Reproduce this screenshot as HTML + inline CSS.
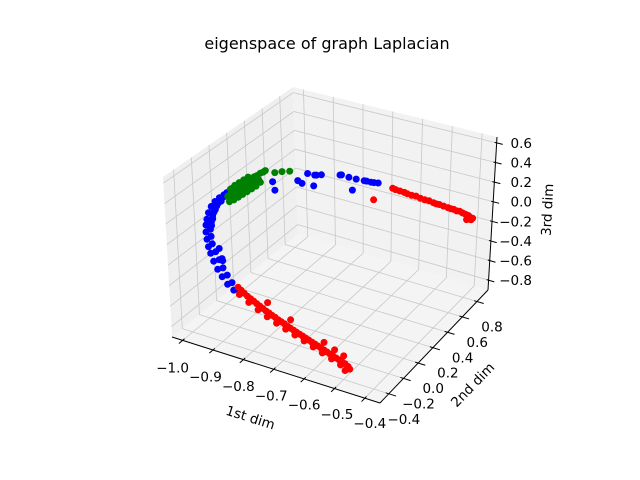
<!DOCTYPE html>
<html><head><meta charset="utf-8"><style>
html,body{margin:0;padding:0;background:#fff;}
svg{display:block;font-family:"DejaVu Sans","Liberation Sans",sans-serif;}
</style></head><body>
<svg id="chart" width="640" height="480" viewBox="0 0 640 480" xmlns="http://www.w3.org/2000/svg">
<text x="327" y="49" font-size="16" text-anchor="middle" fill="#000">eigenspace of graph Laplacian</text>
<g id="panes"></g>
<g id="grid"></g>
<g id="axes"></g>
<g id="pts"></g>
<text font-size="13.5" text-anchor="middle" transform="translate(249,422) rotate(17.6)">1st dim</text>
<text font-size="13.5" text-anchor="middle" transform="translate(476,388) rotate(-45.8)">2nd dim</text>
<text font-size="13.5" text-anchor="middle" transform="translate(552,210) rotate(-87)">3rd dim</text>
</svg>
<script>
const xTicks=[-1.0,-0.9,-0.8,-0.7,-0.6,-0.5,-0.4];
const yTicks=[-0.4,-0.2,0.0,0.2,0.4,0.6,0.8];
const zTicks=[-0.8,-0.6,-0.4,-0.2,0.0,0.2,0.4,0.6];
const xRange=[-1.035,-0.35];
const yRange=[-0.52,0.95];
const zRange=[-0.90,0.66];
// red: lower arm (y=-0.34 / -0.38 / -0.30) and upper arm (y=0.78)
const redX=[-0.86,-0.85,-0.84,-0.83,-0.82,-0.81,-0.80,-0.79,-0.78,-0.77,-0.76,-0.75,-0.74,-0.73,-0.72,-0.71,-0.70,-0.69,-0.68,-0.67,-0.66,-0.65,-0.64,-0.63,-0.62,-0.61,-0.60,-0.59,-0.58,-0.57,-0.56,-0.55,-0.54,-0.53,-0.52,-0.51,-0.50,-0.495,
 -0.845,-0.815,-0.785,-0.755,-0.725,-0.695,-0.665,-0.635,-0.605,-0.575,-0.545,-0.515,-0.50,-0.525,-0.555,-0.59,-0.775,-0.70,
 -0.65,-0.64,-0.625,-0.61,-0.60,-0.585,-0.57,-0.555,-0.54,-0.525,-0.51,-0.50,-0.49,-0.475,-0.46,-0.45,-0.44,-0.43,-0.42,-0.41,-0.40,-0.39,-0.385,-0.375,-0.38,-0.395,-0.715];
const redY=[-0.34,-0.34,-0.34,-0.34,-0.34,-0.34,-0.34,-0.34,-0.34,-0.34,-0.34,-0.34,-0.34,-0.34,-0.34,-0.34,-0.34,-0.34,-0.34,-0.34,-0.34,-0.34,-0.34,-0.34,-0.34,-0.34,-0.34,-0.34,-0.34,-0.34,-0.34,-0.34,-0.34,-0.34,-0.34,-0.34,-0.34,-0.34,
 -0.38,-0.38,-0.38,-0.38,-0.38,-0.38,-0.38,-0.38,-0.38,-0.38,-0.38,-0.38,-0.38,-0.30,-0.30,-0.30,-0.30,-0.30,
 0.78,0.78,0.78,0.78,0.78,0.78,0.78,0.78,0.78,0.78,0.78,0.78,0.78,0.78,0.78,0.78,0.78,0.78,0.78,0.78,0.78,0.78,0.78,0.78,0.78,0.78,0.78];
const redZ=[-0.38,-0.40,-0.42,-0.44,-0.455,-0.47,-0.485,-0.50,-0.515,-0.53,-0.54,-0.555,-0.565,-0.58,-0.59,-0.60,-0.615,-0.625,-0.635,-0.645,-0.655,-0.665,-0.675,-0.685,-0.695,-0.705,-0.715,-0.725,-0.735,-0.745,-0.755,-0.765,-0.775,-0.785,-0.795,-0.805,-0.82,-0.84,
 -0.41,-0.46,-0.505,-0.545,-0.58,-0.61,-0.64,-0.67,-0.70,-0.73,-0.76,-0.79,-0.83,-0.77,-0.74,-0.70,-0.48,-0.58,
 0.02,0.015,0.012,0.01,0.005,0.0,0.004,-0.005,-0.01,-0.008,-0.015,-0.02,-0.018,-0.022,-0.025,-0.03,-0.028,-0.035,-0.03,-0.04,-0.045,-0.05,-0.06,-0.065,-0.085,-0.095,-0.15];
// blue: left arc (y=-0.2) and upper arm (y=0.64)
const blueX=[-0.935,-0.95,-0.965,-0.978,-0.988,-0.994,-0.998,-0.999,-0.997,-0.993,-0.987,-0.978,-0.966,-0.952,-0.935,-0.915,
 -0.91,-0.925,-0.94,-0.955,-0.965,-0.975,-0.98,-0.984,-0.983,-0.98,-0.97,-0.96,-0.948,-0.935,-0.92,-0.90,-0.958,-0.948,-0.95,-0.90,-0.88,
 -0.96,-0.97,-0.975,-0.98,-0.945,-0.93,
 -0.934,-0.90,-0.853,-0.785,-0.76,-0.735,-0.708,-0.685,-0.661,-1.021,-1.014,-0.88,-0.748,-0.92,-0.876,-0.87,-0.79,-0.70,-0.675];
const blueY=[-0.2,-0.2,-0.2,-0.2,-0.2,-0.2,-0.2,-0.2,-0.2,-0.2,-0.2,-0.2,-0.2,-0.2,-0.2,-0.2,
 -0.2,-0.2,-0.2,-0.2,-0.2,-0.2,-0.2,-0.2,-0.2,-0.2,-0.2,-0.2,-0.2,-0.2,-0.2,-0.2,-0.2,-0.2,-0.2,-0.2,-0.2,
 -0.2,-0.2,-0.2,-0.2,-0.2,-0.2,
 0.64,0.64,0.64,0.64,0.64,0.64,0.64,0.64,0.64,0.64,0.64,0.64,0.64,0.64,0.64,0.64,0.64,0.64,0.64];
const blueZ=[0.37,0.33,0.28,0.22,0.15,0.08,0.02,-0.05,-0.12,-0.19,-0.25,-0.32,-0.39,-0.45,-0.51,-0.55,
 0.45,0.40,0.34,0.27,0.20,0.13,0.06,-0.01,-0.08,-0.15,-0.22,-0.29,-0.36,-0.42,-0.48,-0.53,-0.178,-0.289,-0.27,0.48,0.52,
 0.24,0.17,0.10,0.03,0.30,0.36,
 -0.034,0.067,0.092,0.145,0.141,0.143,0.148,0.151,0.162,-0.117,-0.2,-0.044,0.02,-0.051,0.07,0.075,0.14,0.15,0.155];
// green: wedge (y=0.08) and top (y=0.36)
const greenX=[-1.005,-0.995,-0.985,-0.975,-0.965,-0.955,-0.945,-0.935,-0.925,-0.915,-0.905,-0.895,-0.885,-0.878,
 -1.0,-0.985,-0.97,-0.955,-0.94,-0.925,-0.91,-0.895,
 -0.995,-0.98,-0.965,-0.95,-0.935,
 -0.99,-0.98,-0.97,-0.96,-0.95,-0.94,-0.93,-0.92,-0.91,-0.90,
 -0.99,-0.975,-0.96,-0.945,-0.93,
 -0.928,-0.904,-0.878];
const greenY=[0.08,0.08,0.08,0.08,0.08,0.08,0.08,0.08,0.08,0.08,0.08,0.08,0.08,0.08,
 0.08,0.08,0.08,0.08,0.08,0.08,0.08,0.08,
 0.08,0.08,0.08,0.08,0.08,
 0.08,0.08,0.08,0.08,0.08,0.08,0.08,0.08,0.08,0.08,
 0.08,0.08,0.08,0.08,0.08,
 0.36,0.36,0.36];
const greenZ=[0.12,0.15,0.18,0.21,0.24,0.27,0.30,0.33,0.36,0.39,0.41,0.44,0.46,0.48,
 0.07,0.10,0.14,0.18,0.22,0.26,0.30,0.35,
 0.2,0.25,0.29,0.33,0.37,
 0.10,0.13,0.16,0.19,0.22,0.25,0.28,0.31,0.34,0.37,
 0.17,0.22,0.26,0.30,0.34,
 0.24,0.27,0.295];

const NS='http://www.w3.org/2000/svg';
const C={A:[172,337],B:[380,403],Cc:[488,290],D:[298,234],A2:[163,177],B2:[381,233],C2:[497,137],D2:[293,87]};
function lerp(a,b,t){return [a[0]+(b[0]-a[0])*t,a[1]+(b[1]-a[1])*t];}
function P(x,y,z){
  const u=(x-xRange[0])/(xRange[1]-xRange[0]);
  const v=(y-yRange[0])/(yRange[1]-yRange[0]);
  const w=(z-zRange[0])/(zRange[1]-zRange[0]);
  const f=lerp(lerp(C.A,C.B,u),lerp(C.D,C.Cc,u),v);
  const t=lerp(lerp(C.A2,C.B2,u),lerp(C.D2,C.C2,u),v);
  return lerp(f,t,w);
}
function el(tag,attrs,parent){const e=document.createElementNS(NS,tag);for(const k in attrs)e.setAttribute(k,attrs[k]);parent.appendChild(e);return e;}
function poly(pts,fill,parent,name){
  const e=el('polygon',{points:pts.map(p=>p.join(',')).join(' '),fill:fill},parent);
  
  
}
function line(p,q,stroke,wd,parent,name){
  const e=el('line',{x1:p[0],y1:p[1],x2:q[0],y2:q[1],stroke:stroke,'stroke-width':wd},parent);
  
  
}
const [x0,x1]=xRange,[y0,y1]=yRange,[z0,z1]=zRange;
const panes=document.getElementById('panes');
poly([P(x0,y0,z0),P(x1,y0,z0),P(x1,y1,z0),P(x0,y1,z0)],'#f4f4f4',panes,'floor-pane');
poly([P(x0,y0,z0),P(x0,y1,z0),P(x0,y1,z1),P(x0,y0,z1)],'#efefef',panes,'left-pane');
poly([P(x0,y1,z0),P(x1,y1,z0),P(x1,y1,z1),P(x0,y1,z1)],'#f2f2f2',panes,'back-pane');
const grid=document.getElementById('grid');
const gc='#c8c8c8';
xTicks.forEach(x=>{line(P(x,y0,z0),P(x,y1,z0),gc,0.8,grid,'x-gridline');line(P(x,y1,z0),P(x,y1,z1),gc,0.8,grid,'x-gridline');});
yTicks.forEach(y=>{line(P(x0,y,z0),P(x1,y,z0),gc,0.8,grid,'y-gridline');line(P(x0,y,z0),P(x0,y,z1),gc,0.8,grid,'y-gridline');});
zTicks.forEach(z=>{line(P(x0,y0,z),P(x0,y1,z),gc,0.8,grid,'z-gridline');line(P(x0,y1,z),P(x1,y1,z),gc,0.8,grid,'z-gridline');});
const axes=document.getElementById('axes');
line(P(x0,y0,z0),P(x1,y0,z0),'#000',1,axes,'x-axis-line');
line(P(x1,y0,z0),P(x1,y1,z0),'#000',1,axes,'y-axis-line');
line(P(x1,y1,z0),P(x1,y1,z1),'#000',1,axes,'z-axis-line');
function label(txt,x,y,anchor,name){
  const t=el('text',{x:x,y:y,'font-size':13.5,'text-anchor':anchor,fill:'#000'},axes);
  
  
  t.textContent=txt;
}
function fmt(v){const s=Math.abs(v).toFixed(1);return (v<-1e-9?'\u2212':'')+s;}
const yr=y1-y0,xr=x1-x0;
xTicks.forEach((x,i)=>{
  const p=P(x,y0,z0);line(P(x,y0-0.03*yr,z0),P(x,y0+0.015*yr,z0),'#000',1,axes,'x-tick');
  const t=i/(xTicks.length-1);
  label(fmt(x),p[0]-10+15*t,p[1]+32-2*t,'middle','x-tick-label');
});
yTicks.forEach(y=>{
  const p=P(x1,y,z0);line(P(x1-0.015*xr,y,z0),P(x1+0.035*xr,y,z0),'#000',1,axes,'y-tick');
  label(fmt(y),p[0]+15,p[1]+30,'middle','y-tick-label');
});
zTicks.forEach(z=>{
  const p=P(x1,y1,z);line(P(x1-0.01*xr,y1,z),P(x1+0.03*xr,y1,z),'#000',1,axes,'z-tick');
  label(fmt(z),532,p[1]+5,'end','z-tick-label');
});
const pts=document.getElementById('pts');
function series(X,Y,Z,color,name){
  X.forEach((x,i)=>{const p=P(x,Y[i],Z[i]);
    const c=el('circle',{cx:p[0].toFixed(1),cy:p[1].toFixed(1),r:3.5,fill:color},pts);
    
    });
}
series(blueX,blueY,blueZ,'#0000ff','blue-point');
series(redX,redY,redZ,'#ff0000','red-point');
series(greenX,greenY,greenZ,'#008000','green-point');
</script>
</body></html>
